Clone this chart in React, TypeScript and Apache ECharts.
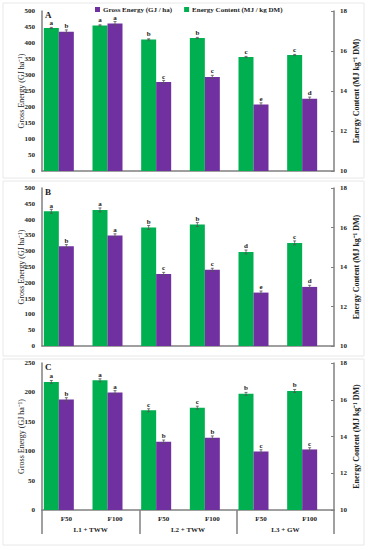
import React, { useEffect, useRef } from "react";
import * as echarts from "echarts";

const fLevels = ["F50", "F100", "F50", "F100", "F50", "F100"];
const groups = ["L1 + TWW", "L2 + TWW", "L3 + GW"];

const grossA = [435, 461, 278, 294, 208, 226];
const contentA = [17.15, 17.28, 16.58, 16.65, 15.7, 15.8];
const grossErrA = [6, 6, 5, 5, 5, 5];
const contentErrA = [0.03, 0.03, 0.03, 0.03, 0.03, 0.03];
const grossLetA = ["b", "a", "c", "c", "e", "d"];
const contentLetA = ["a", "a", "b", "b", "c", "c"];

const grossB = [316, 350, 228, 241, 169, 187];
const contentB = [16.82, 16.89, 16.0, 16.15, 14.76, 15.22];
const grossErrB = [5, 5, 5, 5, 5, 5];
const contentErrB = [0.1, 0.1, 0.1, 0.1, 0.1, 0.1];
const grossLetB = ["b", "a", "c", "c", "e", "d"];
const contentLetB = ["a", "a", "b", "b", "d", "c"];

const grossC = [188, 200, 116, 123, 99.5, 103];
const contentC = [16.97, 17.06, 15.43, 15.57, 16.32, 16.48];
const grossErrC = [3, 3, 3, 3, 3, 3];
const contentErrC = [0.08, 0.08, 0.08, 0.08, 0.08, 0.08];
const grossLetC = ["b", "a", "b", "b", "c", "c"];
const contentLetC = ["a", "a", "c", "c", "b", "b"];

const panelLetters = ["A", "B", "C"];
const grossMax = [500, 500, 250];

const GREEN = "#00B050";
const PURPLE = "#7030A0";
const AXIS = "#808080";
const FONT = "'Liberation Serif', 'Times New Roman', serif";
const GROSS_NAME = "Gross Energy (GJ / ha)";
const CONTENT_NAME = "Energy Content (MJ / kg DM)";

export default function App() {
  const ref = useRef<HTMLDivElement>(null);
  useEffect(() => {
    if (!ref.current) return;
    const chart = echarts.init(ref.current, undefined, { renderer: "svg" });

    const grids = [
      { left: 42, width: 298, top: 11, height: 160 },
      { left: 42, width: 298, top: 188, height: 158 },
      { left: 42, width: 298, top: 363, height: 147 },
    ];
    const gross = [grossA, grossB, grossC];
    const content = [contentA, contentB, contentC];
    const grossErr = [grossErrA, grossErrB, grossErrC];
    const contentErr = [contentErrA, contentErrB, contentErrC];
    const grossLet = [grossLetA, grossLetB, grossLetC];
    const contentLet = [contentLetA, contentLetB, contentLetC];

    const xAxis: any[] = [];
    const yAxis: any[] = [];
    const series: any[] = [];

    for (let p = 0; p < 3; p++) {
      xAxis.push({
        type: "category",
        gridIndex: p,
        data: fLevels,
        axisLine: { show: true, lineStyle: { color: AXIS, width: 1.5 } },
        axisTick: { show: false },
        axisLabel: {
          show: p === 2,
          margin: 5,
          fontFamily: FONT,
          fontWeight: "bold",
          fontSize: 7,
          color: "#222",
        },
      });
      yAxis.push({
        type: "value",
        gridIndex: p,
        min: 0,
        max: grossMax[p],
        interval: 50,
        position: "left",
        name: "Gross Energy (GJ ha⁻¹)",
        nameLocation: "middle",
        nameGap: 17,
        nameMoveOverlap: false,
        nameTextStyle: { fontFamily: FONT, fontSize: 8, color: "#222" },
        axisLine: { show: true, lineStyle: { color: AXIS, width: 1.5 } },
        axisTick: { show: false },
        splitLine: { show: false },
        axisLabel: {
          margin: 7,
          fontFamily: FONT,
          fontWeight: "bold",
          fontSize: 7,
          color: "#222",
        },
      });
      yAxis.push({
        type: "value",
        gridIndex: p,
        min: 10,
        max: 18,
        interval: 2,
        position: "right",
        name: "Energy Content (MJ kg⁻¹ DM)",
        nameLocation: "middle",
        nameGap: 18,
        nameMoveOverlap: false,
        nameTextStyle: {
          fontFamily: FONT,
          fontSize: 8,
          fontWeight: "bold",
          color: "#222",
        },
        axisLine: { show: true, lineStyle: { color: AXIS, width: 1.5 } },
        axisTick: { show: true, inside: true, length: 3, lineStyle: { color: AXIS } },
        splitLine: { show: false },
        axisLabel: {
          margin: 6,
          fontFamily: FONT,
          fontWeight: "bold",
          fontSize: 7,
          color: "#222",
        },
      });

      const gy = p * 2;
      const cy = p * 2 + 1;
      const labelStyle = {
        show: true,
        position: "top",
        distance: 2,
        fontFamily: FONT,
        fontWeight: "bold",
        fontSize: 7,
        color: "#222",
      };

      series.push({
        type: "bar",
        name: CONTENT_NAME,
        xAxisIndex: p,
        yAxisIndex: cy,
        barWidth: 15,
        barGap: "0%",
        itemStyle: { color: GREEN },
        data: content[p],
        label: {
          ...labelStyle,
          formatter: (d: any) => contentLet[p][d.dataIndex],
        },
      });
      series.push({
        type: "bar",
        name: GROSS_NAME,
        xAxisIndex: p,
        yAxisIndex: gy,
        barWidth: 15,
        barGap: "0%",
        itemStyle: { color: PURPLE },
        data: gross[p],
        label: {
          ...labelStyle,
          formatter: (d: any) => grossLet[p][d.dataIndex],
        },
      });
      series.push({
        type: "bar",
        name: "spacer",
        xAxisIndex: p,
        yAxisIndex: gy,
        barWidth: 15,
        barGap: "0%",
        data: fLevels.map(() => null),
        silent: true,
      });

      const errSeries = (vals: number[], errs: number[], yIdx: number, offset: number) => ({
        type: "custom",
        xAxisIndex: p,
        yAxisIndex: yIdx,
        z: 5,
        silent: true,
        data: vals.map((v, i) => [i, v, errs[i]]),
        renderItem: (params: any, api: any) => {
          const i = api.value(0);
          const v = api.value(1);
          const e = api.value(2);
          const top = api.coord([i, v + e]);
          const bot = api.coord([i, v - e]);
          const x = top[0] + offset;
          const st = { stroke: "#555", lineWidth: 0.8 };
          return {
            type: "group",
            children: [
              { type: "line", shape: { x1: x, y1: top[1], x2: x, y2: bot[1] }, style: st },
              { type: "line", shape: { x1: x - 1.5, y1: top[1], x2: x + 1.5, y2: top[1] }, style: st },
              { type: "line", shape: { x1: x - 1.5, y1: bot[1], x2: x + 1.5, y2: bot[1] }, style: st },
            ],
          };
        },
      });
      series.push(errSeries(content[p], contentErr[p], cy, -15));
      series.push(errSeries(gross[p], grossErr[p], gy, 0));
    }

    // group axis for panel C
    xAxis.push({
      type: "category",
      gridIndex: 2,
      position: "bottom",
      data: groups,
      axisLine: { show: false },
      axisTick: { show: true, length: 24, lineStyle: { color: AXIS, width: 1.5 } },
      axisLabel: {
        margin: 16,
        fontFamily: FONT,
        fontWeight: "bold",
        fontSize: 7,
        color: "#222",
      },
    });

    const graphic: any[] = [
      { type: "rect", shape: { x: 3, y: 3, width: 361, height: 175 }, style: { fill: "none", stroke: "#e8e8e8", lineWidth: 1 }, z: -1 },
      { type: "rect", shape: { x: 3, y: 181, width: 361, height: 175 }, style: { fill: "none", stroke: "#e8e8e8", lineWidth: 1 }, z: -1 },
      { type: "rect", shape: { x: 3, y: 359, width: 361, height: 186 }, style: { fill: "none", stroke: "#e8e8e8", lineWidth: 1 }, z: -1 },
    ];
    grids.forEach((g, i) => {
      graphic.push({
        type: "text",
        left: g.left + 3,
        top: g.top - 1,
        style: {
          text: panelLetters[i],
          font: `bold 9px ${FONT}`,
          fill: "#222",
        },
      });
    });

    chart.setOption({
      animation: false,
      backgroundColor: "#fff",
      grid: grids,
      xAxis,
      yAxis,
      series,
      graphic,
      legend: {
        data: [
          { name: GROSS_NAME, itemStyle: { color: PURPLE } },
          { name: CONTENT_NAME, itemStyle: { color: GREEN } },
        ],
        left: 95,
        top: 6,
        padding: 0,
        icon: "rect",
        itemWidth: 5,
        itemHeight: 5,
        itemGap: 12,
        textStyle: { fontFamily: FONT, fontWeight: "bold", fontSize: 7, color: "#222", padding: [0, 0, 0, -2] },
      },
    });
    return () => chart.dispose();
  }, []);
  return (
    <div
      ref={ref}
      style={{ position: "fixed", left: 0, top: 0, width: 368, height: 550 }}
    />
  );
}
